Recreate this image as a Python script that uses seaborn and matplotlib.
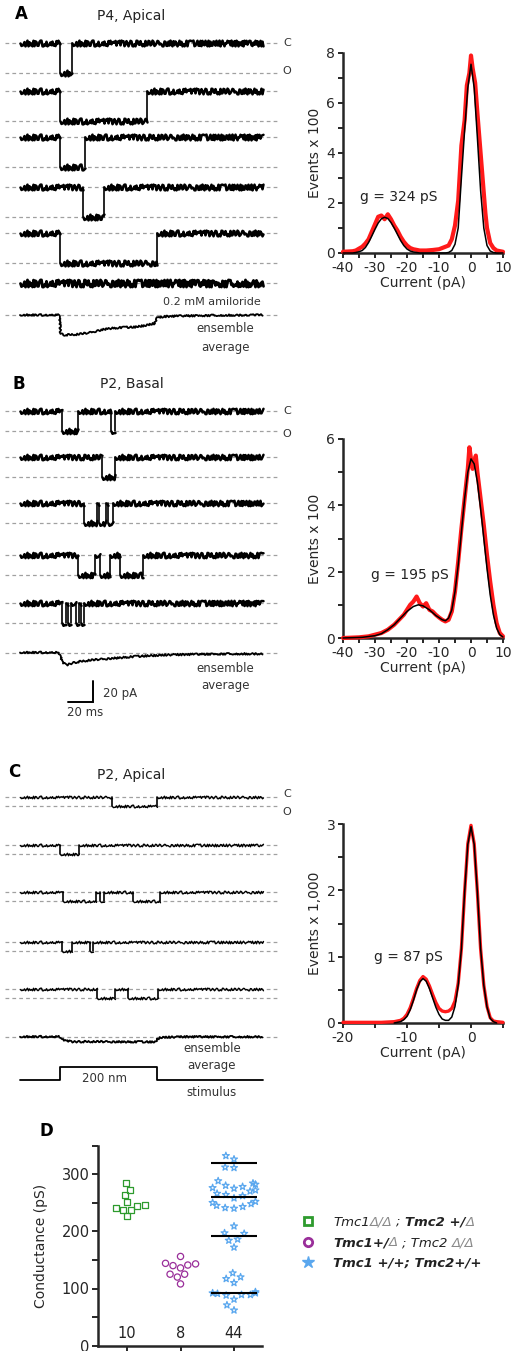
import matplotlib
matplotlib.use('Agg')
import matplotlib.pyplot as plt
from matplotlib.lines import Line2D
from matplotlib.ticker import MultipleLocator
import numpy as np
import pandas as pd
import seaborn as sns

# ---------------- data ----------------
# single channel sweeps: open intervals in ms, sweep length 194 ms
sweep_ms = 194
A_events = [[(32, 41.3)], [(32, 101.3)], [(32, 52)], [(50.7, 67.2)], [(32, 109.3)]]
A_open_pA = -28.5
A_ens_t = [0, 31.5, 32.5, 36, 45, 55, 62, 70, 80, 92, 100, 108, 109, 115, 130, 160, 194]
A_ens_pA = [0, 0, -18, -19, -18.5, -17, -15, -13, -12, -11.5, -10, -8, -3, -1.5, -0.8, -0.3, 0]

B_events = [[(33.3, 46.7), (72.8, 76)], [(65.3, 76)], [(51.2, 61.5), (63.5, 68.5), (70, 74.7)],
            [(46.7, 60), (64, 72), (80, 98.7)], [(33.5, 36.5), (38, 41), (45, 47.5), (48.5, 51.5)]]
B_open_pA = -19
B_ens_t = [0, 30, 32, 34, 37, 42, 46, 55, 64, 75, 90, 105, 118, 140, 170, 194]
B_ens_pA = [0.5, 0.5, -2, -9, -11.5, -9.5, -8.5, -7, -6, -5, -3.5, -2.5, -1.8, -1.2, -0.8, -0.8]

C_events = [[(73.3, 109.3)], [(32, 47)], [(34, 61), (64, 67), (90.7, 112)],
            [(33.3, 41.3), (56, 58.5)], [(61.3, 76), (86.7, 110.7)]]
C_open_pA = -8.5
C_ens_t = [0, 31, 33, 37, 42, 60, 80, 100, 108, 110, 112, 130, 194]
C_ens_pA = [0.3, 0.3, -2, -3.8, -4.5, -4.4, -4.6, -4.6, -4.8, -2, -0.5, 0.2, 0.2]

stim_on, stim_off, stim_nm = 32, 109.3, 200
scale_ms, scale_pA = 20, 20

# all-points histograms (current pA, events)
A_x_red = [-40, -37, -36, -34, -33, -32, -31, -30, -29, -28, -27, -26, -25, -24, -23, -22, -21, -20, -19, -18,
           -16, -14, -12, -10, -8, -7, -6, -5, -4, -3, -2, -1.3, -0.5, 0, 0.5, 1.3, 2, 3, 4, 4.5, 5, 6, 7, 8, 10]
A_red = [0.05, 0.07, 0.1, 0.25, 0.38, 0.55, 0.85, 1.15, 1.45, 1.5, 1.35, 1.55, 1.35, 1.1, 0.9, 0.65, 0.45, 0.3, 0.2, 0.15,
         0.1, 0.1, 0.12, 0.15, 0.25, 0.3, 0.55, 1.1, 2.1, 4.3, 5.3, 6.7, 7.2, 7.9, 7.4, 6.8, 5.6, 4.0, 2.4, 1.6, 1.0, 0.4, 0.2, 0.1, 0.05]
A_x_fit = [-40, -37, -36, -35, -34, -33, -32, -31, -30, -29, -28, -27, -26, -25, -24, -23, -22, -21, -20, -19,
           -18, -16, -8, -7, -6, -5, -4, -3, -2, -1, 0, 1, 2, 3, 4, 5, 6, 7, 8, 10]
A_fit = [0, 0, 0.02, 0.05, 0.1, 0.22, 0.42, 0.68, 0.95, 1.2, 1.37, 1.43, 1.38, 1.22, 1.0, 0.75, 0.5, 0.3, 0.16, 0.08,
         0.04, 0, 0, 0.02, 0.1, 0.35, 1.0, 3.0, 4.9, 6.6, 7.55, 6.6, 4.6, 2.5, 1.0, 0.3, 0.08, 0.02, 0, 0]

B_x_red = [-40, -35, -32, -30, -28, -26, -24, -22, -21, -20, -19, -18, -17, -16, -15, -14, -13, -12, -11, -10,
           -9, -8, -7, -6, -5, -4, -3, -2, -1, -0.5, 0, 0.5, 1, 1.5, 2, 3, 4, 5, 6, 7, 8, 9, 10]
B_red = [0.0, 0.02, 0.05, 0.1, 0.15, 0.25, 0.4, 0.6, 0.7, 0.85, 1.0, 1.1, 1.25, 1.05, 0.95, 1.05, 0.85, 0.8, 0.7, 0.62,
         0.55, 0.5, 0.55, 0.8, 1.4, 2.3, 3.3, 4.2, 5.1, 5.75, 5.4, 5.1, 5.3, 5.5, 5.0, 4.2, 3.4, 2.5, 1.7, 1.0, 0.45, 0.15, 0.05]
B_x_fit = [-40, -34, -30, -28, -26, -24, -22, -20, -18, -16.5, -15, -13, -11, -9, -8, -7, -6, -5, -4, -3,
           -2, -1, 0, 1, 2, 3, 4, 5, 6, 7, 8, 9, 10]
B_fit = [0, 0.02, 0.07, 0.13, 0.25, 0.4, 0.6, 0.8, 0.95, 1.0, 0.97, 0.85, 0.68, 0.55, 0.52, 0.6, 0.85, 1.4, 2.2, 3.2,
         4.2, 5.0, 5.4, 5.25, 4.7, 3.9, 3.0, 2.1, 1.3, 0.7, 0.3, 0.1, 0.03]

C_x_red = [-20, -14, -12, -11, -10.5, -10, -9.5, -9, -8.5, -8, -7.5, -7, -6.5, -6, -5.5, -5, -4.5, -4, -3.5, -3,
           -2.5, -2, -1.5, -1, -0.5, 0, 0.5, 1, 1.5, 2, 2.5, 3, 3.5, 4, 5]
C_red = [0.01, 0.01, 0.02, 0.04, 0.07, 0.13, 0.23, 0.37, 0.52, 0.64, 0.7, 0.66, 0.56, 0.43, 0.31, 0.22, 0.18, 0.17, 0.18, 0.22,
         0.33, 0.6, 1.12, 1.97, 2.7, 2.98, 2.7, 1.97, 1.12, 0.57, 0.25, 0.08, 0.03, 0.02, 0.01]
C_x_fit = [-12, -11, -10.5, -10, -9.5, -9, -8.5, -8, -7.5, -7, -6.5, -6, -5.5, -5, -4.5, -4, -3.5, -3, -2.5, -2,
           -1.5, -1, -0.5, 0, 0.5, 1, 1.5, 2, 2.5, 3, 3.5, 4]
C_fit = [0, 0.02, 0.05, 0.1, 0.2, 0.34, 0.5, 0.62, 0.67, 0.63, 0.52, 0.38, 0.24, 0.13, 0.06, 0.04, 0.04, 0.09, 0.25, 0.57,
         1.12, 1.97, 2.69, 2.96, 2.69, 1.97, 1.12, 0.57, 0.24, 0.07, 0.02, 0]

# conductance scatter (pS)
genotypes = ['Tmc1d/d; Tmc2+/d', 'Tmc1+/d; Tmc2d/d', 'Tmc1+/+; Tmc2+/+']
g_sq = [273, 284, 264, 246, 252, 238, 244, 238, 227, 241]
g_circ = [144, 140, 136, 141, 156, 143, 125, 120, 125, 108]
g_star = [326, 332, 311, 312,
          288, 284, 282, 280, 278, 276, 275, 272, 270, 266, 264, 262, 258, 252, 250, 248, 245, 243, 241, 240,
          209, 197, 196, 186, 184, 172,
          127, 117, 120, 110, 92, 89, 94, 91, 92, 89, 88, 81, 71, 62]
star_means = [320, 260, 192, 93]
n_cells = [10, 8, 44]

# ---------------- layout ----------------
sns.set_style('ticks')
plt.rcParams['font.family'] = ['DejaVu Sans']
plt.rcParams['axes.unicode_minus'] = False
W, H = 512, 1351
fig = plt.figure(figsize=(W / 100, H / 100), dpi=100)
fig.patch.set_facecolor('white')
PX = 1.05  # px per pA
MS = 1.25  # px per ms


def px_axes(l, t, r, b):
    return fig.add_axes([l / W, 1 - b / H, (r - l) / W, (b - t) / H])


def ftext(x, y, s, **kw):
    kw.setdefault('ha', 'center')
    kw.setdefault('va', 'center')
    kw.setdefault('color', '#222222')
    return fig.text(x / W, 1 - y / H, s, **kw)


def sweep(ax, events, amp, base_px, lw, noise):
    # flat closed/open stretches get the recording noise, the jumps stay clean
    bounds = [0.0] + [t for ev in events for t in ev] + [sweep_ms]
    flat, jumps = [], []
    for k in range(len(bounds) - 1):
        lev = amp if k % 2 else 0.0
        flat += [(bounds[k], lev, k), (bounds[k + 1], lev, k)]
    for k, (t0, t1) in enumerate(events):
        jumps += [(t0, 0.0, 2 * k), (t0, amp, 2 * k), (t1, amp, 2 * k + 1), (t1, 0.0, 2 * k + 1)]
    fd = pd.DataFrame(flat, columns=['t', 'i', 'seg'])
    fd['i'] -= base_px / PX
    n0 = len(ax.lines)
    sns.lineplot(data=fd, x='t', y='i', units='seg', estimator=None, sort=False,
                 color='black', lw=lw, ax=ax)
    for ln in ax.lines[n0:]:
        ln.set_sketch_params(scale=noise, length=2.0, randomness=3.0)
    if jumps:
        jd = pd.DataFrame(jumps, columns=['t', 'i', 'seg'])
        jd['i'] -= base_px / PX
        sns.lineplot(data=jd, x='t', y='i', units='seg', estimator=None, sort=False,
                     color='black', lw=1.2, ax=ax)


def smooth_trace(ax, t, i, base_px, lw, noise):
    sns.lineplot(x=np.asarray(t, float), y=np.asarray(i, float) - base_px / PX, sort=False,
                 estimator=None, color='black', lw=lw, ax=ax)
    ax.lines[-1].set_sketch_params(scale=noise, length=2.0, randomness=3.0)


def dash(ax, y_pA):
    ax.axhline(y_pA, color='#a0a0a0', lw=0.9, ls=(0, (3, 2.5)), zorder=1)


tr = px_axes(5, 0, 280, 1100)
tr.set_xlim((5 - 20) / MS, (280 - 20) / MS)
tr.set_ylim(-1100 / PX, 0)
tr.axis('off')

panels = [(A_events, A_open_pA, [43, 91, 137, 187, 233], 1.8, 2.9),
          (B_events, B_open_pA, [411, 457, 503, 555, 603], 1.8, 2.7),
          (C_events, C_open_pA, [797, 845, 892, 942, 989], 1.0, 1.3)]
for events, amp, rows, lw, noise in panels:
    for ev, b in zip(events, rows):
        dash(tr, -b / PX)
        dash(tr, -b / PX + amp)
        sweep(tr, ev, amp, b, lw, noise)

# amiloride sweep
dash(tr, -283 / PX)
sweep(tr, [], 0.0, 283, 2.0, 3.6)
# ensemble averages
for t, i, b in [(A_ens_t, A_ens_pA, 315), (B_ens_t, B_ens_pA, 653), (C_ens_t, C_ens_pA, 1037)]:
    dash(tr, -b / PX)
    smooth_trace(tr, t, i, b, 1.3, 0.9)

# stimulus (200 nm drawn as 13 px)
st_t = np.array([0, stim_on, stim_on, stim_off, stim_off, sweep_ms])
st_v = np.array([0, 0, stim_nm, stim_nm, 0, 0]) * (13 / PX / stim_nm)
sns.lineplot(x=st_t, y=st_v - 1080 / PX, sort=False, estimator=None, color='black', lw=1.3, ax=tr)

# scale bar
ct, cy = (93 - 20) / MS, -702 / PX
tr.plot([ct - scale_ms, ct, ct], [cy, cy, cy + scale_pA], color='black', lw=1.4, solid_joinstyle='miter')

# panel texts
for lab, x, y in [('A', 21, 14), ('B', 19, 384), ('C', 14, 772), ('D', 46, 1131)]:
    ftext(x, y, lab, fontsize=12, weight='bold', color='black')
ftext(131, 16, 'P4, Apical', fontsize=10)
ftext(132, 384, 'P2, Basal', fontsize=10)
ftext(131, 775, 'P2, Apical', fontsize=10)
for yc, yo in [(43, 71), (411, 434), (794, 812)]:
    ftext(287, yc, 'C', fontsize=8, color='#333333')
    ftext(287, yo, 'O', fontsize=8, color='#333333')
ftext(261, 302, '0.2 mM amiloride', fontsize=8, ha='right', color='#333333')
for x, y1, y2 in [(225, 328, 347), (225, 668, 686), (212, 1048, 1066)]:
    ftext(x, y1, 'ensemble', fontsize=8.5, color='#333333')
    ftext(x, y2, 'average', fontsize=8.5, color='#333333')
ftext(104, 1078, '200 nm', fontsize=8.5, color='#333333')
ftext(212, 1093, 'stimulus', fontsize=8.5, color='#333333')
ftext(103, 694, '20 pA', fontsize=8.5, ha='left', color='#333333')
ftext(67, 713, '20 ms', fontsize=8.5, ha='left', color='#333333')


# ---------------- histograms ----------------
def hist_panel(box, xr, yr, xf, yf, xlim, ylim, ymaj, ymin, ylab, gtxt, gpos, red_lw):
    ax = px_axes(*box)
    sns.lineplot(x=xr, y=yr, sort=False, estimator=None, color='#ff1a1a', lw=red_lw, ax=ax,
                 zorder=3, clip_on=False)
    sns.lineplot(x=xf, y=yf, sort=False, estimator=None, color='black', lw=1.1, ax=ax,
                 zorder=4, clip_on=False)
    ax.set_xlim(*xlim)
    ax.set_ylim(*ylim)
    ax.xaxis.set_major_locator(MultipleLocator(10))
    ax.xaxis.set_minor_locator(MultipleLocator(5))
    ax.yaxis.set_major_locator(MultipleLocator(ymaj))
    ax.yaxis.set_minor_locator(MultipleLocator(ymin))
    sns.despine(ax=ax)
    for s in ['left', 'bottom']:
        ax.spines[s].set_linewidth(1.8)
    ax.tick_params(which='both', direction='out', width=1.4, length=3.5, labelsize=10, pad=2)
    ax.set_xlabel('Current (pA)', fontsize=10, labelpad=1)
    ax.set_ylabel(ylab, fontsize=10, labelpad=3)
    ax.patch.set_alpha(0)
    ftext(gpos[0], gpos[1], gtxt, fontsize=10)
    return ax


hist_panel((343, 53, 503, 253), A_x_red, A_red, A_x_fit, A_fit, (-40, 10), (0, 8), 2, 1,
           'Events x 100', 'g = 324 pS', (399, 197), 3.0)
hist_panel((343, 439, 503, 638), B_x_red, B_red, B_x_fit, B_fit, (-40, 10), (0, 6), 2, 1,
           'Events x 100', 'g = 195 pS', (410, 575), 3.0)
hist_panel((343, 824, 503, 1023), C_x_red, C_red, C_x_fit, C_fit, (-20, 5), (0, 3), 1, 0.5,
           'Events x 1,000', 'g = 87 pS', (408, 957), 2.4)

# ---------------- conductance panel ----------------
green, purple, blue = '#2e9b2e', '#9a2f9a', '#5aa7ee'
colors = [green, purple, blue]
markers = ['s', 'o', '*']
msizes = [4.3, 4.5, 5.2]
df = pd.DataFrame({'genotype': [genotypes[0]] * len(g_sq) + [genotypes[1]] * len(g_circ)
                   + [genotypes[2]] * len(g_star),
                   'g': g_sq + g_circ + g_star})

axD = px_axes(98, 1145.5, 262, 1345.7)
for geno, mk, col, ms in zip(genotypes, markers, colors, msizes):
    n0 = len(axD.collections)
    sns.swarmplot(data=df[df.genotype == geno], x='genotype', y='g', order=genotypes,
                  marker=mk, color=col, size=ms, ax=axD)
    for c in axD.collections[n0:]:
        c.set_facecolor('none')
        c.set_edgecolor(col)
        c.set_linewidth(0.9)
axD.hlines(star_means, 2 - 0.43, 2 + 0.43, color='black', lw=1.5, zorder=5)
for k, n in enumerate(n_cells):
    axD.text(k, 22, str(n), ha='center', va='center', fontsize=10.5, color='#222222')
axD.set_xlim(-0.542, 2.523)
axD.set_ylim(0, 350)
axD.set_xticks([0, 1, 2])
axD.set_xticklabels([])
axD.set_xlabel('')
axD.yaxis.set_major_locator(MultipleLocator(100))
axD.yaxis.set_minor_locator(MultipleLocator(50))
sns.despine(ax=axD)
for s in ['left', 'bottom']:
    axD.spines[s].set_linewidth(1.8)
axD.tick_params(which='both', direction='out', width=1.4, length=4, labelsize=10.5, pad=2)
axD.tick_params(axis='x', length=7)
axD.set_ylabel('Conductance (pS)', fontsize=10, labelpad=10)
axD.patch.set_alpha(0)

# legend with mixed styles
leg_rows_y = [1221, 1242, 1262]
for y, mk, col in zip(leg_rows_y, markers, colors):
    if mk == '*':
        fig.add_artist(Line2D([308 / W], [1 - y / H], transform=fig.transFigure, marker='*', ms=9,
                              mfc=col, mec=col, ls='none'))
    else:
        fig.add_artist(Line2D([308 / W], [1 - y / H], transform=fig.transFigure, marker=mk, ms=6,
                              mfc='white', mec=col, mew=2, ls='none'))

dark, grey = '#222222', '#8a8a8a'
legend_rows = [
    [('Tmc1', 'normal', dark, 0), ('Δ/Δ', 'normal', grey, 4), (';', 'normal', dark, 4),
     ('Tmc2 +/', 'bold', dark, 0), ('Δ', 'normal', grey, 0)],
    [('Tmc1+/', 'bold', dark, 0), ('Δ', 'normal', grey, 4), ('; Tmc2', 'normal', dark, 4),
     ('Δ/Δ', 'normal', grey, 0)],
    [('Tmc1 +/+; Tmc2+/+', 'bold', dark, 0)],
]
renderer = fig.canvas.get_renderer()
for y, pieces in zip(leg_rows_y, legend_rows):
    x = 333
    for s, wt, col, gap in pieces:
        t = fig.text(x / W, 1 - (y + 4.5) / H, s, fontsize=9.5, style='italic', weight=wt,
                     color=col, ha='left', va='baseline')
        x += t.get_window_extent(renderer).width + gap

fig.savefig('out.png', dpi=100)
